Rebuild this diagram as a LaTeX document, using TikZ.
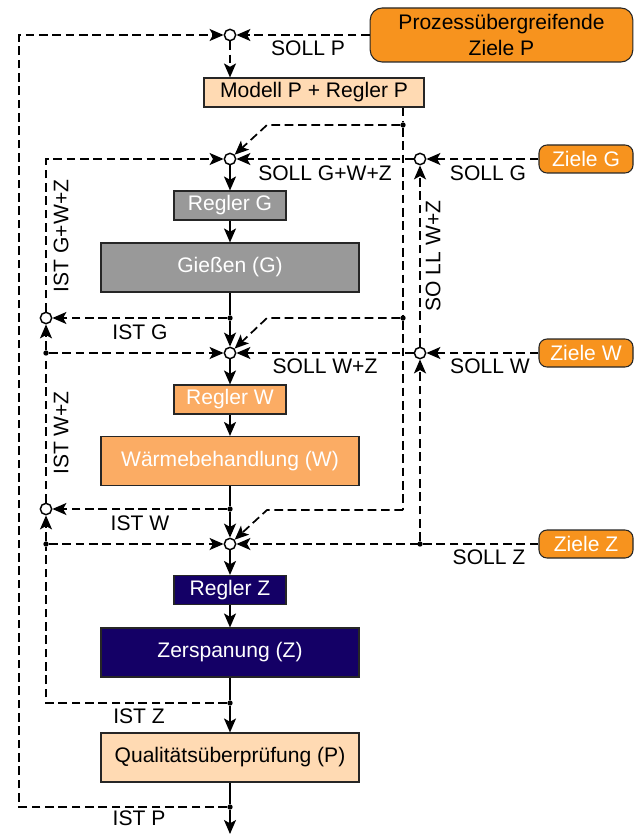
\documentclass[tikz,border=0pt]{standalone}
\usepackage{fontspec}
\setmainfont{Liberation Sans}
\usetikzlibrary{arrows.meta,positioning}

\definecolor{peach}{HTML}{FFDAB3}
\definecolor{zielorange}{HTML}{F7931E}
\definecolor{lightorange}{HTML}{FBAC64}
\definecolor{castgray}{HTML}{999999}
\definecolor{cutnavy}{HTML}{140066}

\begin{document}
\begin{tikzpicture}[
  x=0.75pt, y=-0.75pt,
  font=\fontsize{15.8}{20}\selectfont,
  >={Stealth[length=10.5pt,width=9pt,inset=2.5pt]},
  flow/.style={line width=1.3pt},
  dashline/.style={line width=1.3pt, dash pattern=on 6.5pt off 3.5pt},
  block/.style={draw=black!85, line width=0.8pt, inner sep=0pt, align=center},
  reglerbox/.style={block, minimum width=84pt, minimum height=21.75pt},
  procbox/.style={block, minimum width=193.5pt, minimum height=36.75pt},
  zielbox/.style={block, rounded corners=6pt, fill=zielorange, text=white,
    minimum width=70.5pt, minimum height=21pt},
  junction/.style={circle, draw, fill=white, line width=1.1pt, inner sep=0pt, minimum size=8.5pt},
  dot/.style={circle, fill=black, inner sep=0pt, minimum size=4pt},
  lbl/.style={inner sep=0pt}
]
\useasboundingbox (0,0) rectangle (638,834);

% Goal boxes and plant-wide model.
\node[block, rounded corners=9pt, fill=zielorange, minimum width=197pt, minimum height=40.5pt]
  (zielp) at (501.5,35) {Prozessübergreifende\\Ziele P};
\node[block, fill=peach, minimum width=165pt, minimum height=21.75pt]
  (modellp) at (314,92.5) {Modell P + Regler P};
\node[zielbox] (zieleg) at (586,159) {Ziele G};
\node[zielbox] (zielew) at (586,353) {Ziele W};
\node[zielbox] (zielez) at (586,544) {Ziele Z};

% Process chain.
\node[reglerbox, fill=castgray, text=white] (reglerg) at (230,205.5) {Regler G};
\node[procbox, fill=castgray, text=white] (giessen) at (230,267.5) {Gießen (G)};
\node[reglerbox, fill=lightorange, text=white] (reglerw) at (230,399.5) {Regler W};
\node[procbox, fill=lightorange, text=white] (waerme) at (230,461) {Wärmebehandlung (W)};
\node[reglerbox, fill=cutnavy, text=white] (reglerz) at (230,590) {Regler Z};
\node[procbox, fill=cutnavy, text=white] (zersp) at (230,652.5) {Zerspanung (Z)};
\node[procbox, fill=peach] (quali) at (230,757.5) {Qualitätsüberprüfung (P)};

% Summing points and branch dots.
\node[junction] (jp) at (230,35) {};
\node[junction] (jg) at (230,159) {};
\node[junction] (jw) at (230,353) {};
\node[junction] (jz) at (230,544) {};
\node[junction] (jgr) at (420,159) {};
\node[junction] (jwr) at (420,353) {};
\node[junction] (jig) at (46,318) {};
\node[junction] (jiw) at (46,509) {};

\node[dot] (dm1) at (403,125) {};
\node[dot] (dm2) at (403,318) {};
\node[dot] (dg) at (230,318) {};
\node[dot] (dw) at (230,509) {};
\node[dot] (dl1) at (46,353) {};
\node[dot] (dl2) at (46,544) {};
\node[dot] (dzr) at (420,544) {};
\node[dot] (dzist) at (230,703) {};
\node[dot] (dpist) at (230,807) {};

\coordinate (outert) at (19,35);
\coordinate (mcorner) at (403,510);
\coordinate (kg) at (267,125);
\coordinate (kw) at (267,318);
\coordinate (kz) at (267,510);
\coordinate (pend) at (230,834);

% Material flow.
\draw[flow,->] (jg) -- (reglerg);
\draw[flow,->] (reglerg) -- (giessen);
\draw[flow] (giessen) -- (dg);
\draw[flow,->] (dg) -- (jw);
\draw[flow,->] (jw) -- (reglerw);
\draw[flow,->] (reglerw) -- (waerme);
\draw[flow] (waerme) -- (dw);
\draw[flow,->] (dw) -- (jz);
\draw[flow,->] (jz) -- (reglerz);
\draw[flow,->] (reglerz) -- (zersp);
\draw[flow] (zersp) -- (dzist);
\draw[flow,->] (dzist) -- (quali);
\draw[flow] (quali) -- (dpist);
\draw[flow,->] (dpist) -- (pend);

% Set points.
\draw[dashline,->] (zielp) -- (jp);
\draw[dashline,->] (jp) -- (jp |- modellp.north);
\draw[dashline] (modellp.south -| dm1) -- (dm1) -- (dm2) -- (mcorner);
\draw[dashline,->] (dm1) -- (kg) -- (jg);
\draw[dashline,->] (dm2) -- (kw) -- (jw);
\draw[dashline,->] (mcorner) -- (kz) -- (jz);
\draw[dashline,->] (zieleg) -- (jgr);
\draw[dashline,->] (jgr) -- (jg);
\draw[dashline,->] (zielew) -- (jwr);
\draw[dashline,->] (jwr) -- (jgr);
\draw[dashline,->] (jwr) -- (jw);
\draw[dashline,->] (zielez) -- (jz);
\draw[dashline,->] (dzr) -- (jwr);

% Actual values fed back.
\draw[dashline,->] (dpist) -| (outert) -- (jp);
\draw[dashline,->] (dg) -- (jig);
\draw[dashline,->] (jig) |- (jg);
\draw[dashline,->] (dl1) -- (jig);
\draw[dashline,->] (dl1) -- (jw);
\draw[dashline] (jiw) -- (dl1);
\draw[dashline,->] (dw) -- (jiw);
\draw[dashline,->] (dl2) -- (jiw);
\draw[dashline,->] (dl2) -- (jz);
\draw[dashline] (dzist) -| (dl2);

% Signal labels.
\node[lbl] at (308,48) {SOLL P};
\node[lbl] at (325,173) {SOLL G+W+Z};
\node[lbl] at (488,173) {SOLL G};
\node[lbl] at (140,332) {IST G};
\node[lbl] at (325,366) {SOLL W+Z};
\node[lbl] at (490,366) {SOLL W};
\node[lbl] at (140,523) {IST W};
\node[lbl] at (489,557) {SOLL Z};
\node[lbl] at (139,716) {IST Z};
\node[lbl] at (139,818) {IST P};
\node[lbl, rotate=90] at (61,236) {IST G+W+Z};
\node[lbl, rotate=90] at (61,433) {IST W+Z};
\node[lbl, rotate=90] at (433,256) {SO LL W+Z};

\end{tikzpicture}
\end{document}
